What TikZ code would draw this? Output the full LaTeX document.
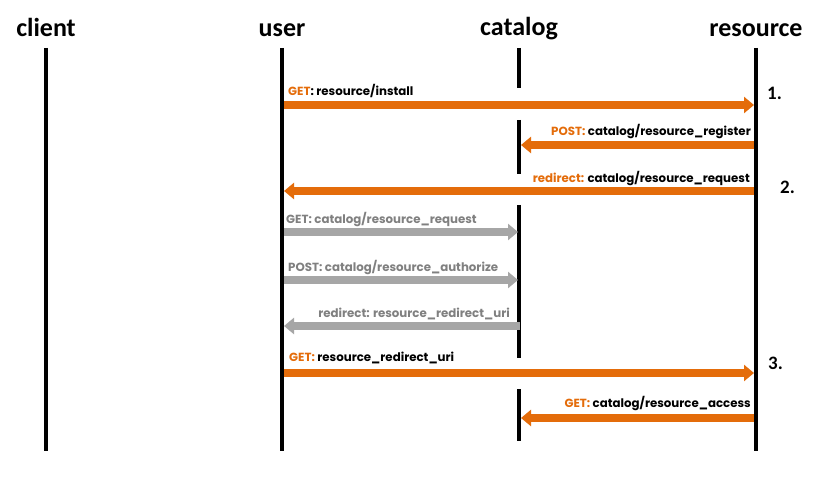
\documentclass[tikz,border=0pt]{standalone}
\usepackage{fontspec}
\setmainfont{Carlito}
\newfontfamily\lblfont{Poppins}
\usetikzlibrary{arrows.meta}
\definecolor{msgorange}{HTML}{E46C0A}
\definecolor{msggray}{HTML}{A6A6A6}
\definecolor{lblgray}{HTML}{808080}
\tikzset{
  lifeline/.style={line width=4pt},
  actor/.style={font=\bfseries\fontsize{26}{26}\selectfont, anchor=base, inner sep=0pt},
  msg/.style={line width=8.5pt, -{Triangle[length=10pt,width=16pt]}},
  omsg/.style={msg, msgorange},
  gmsg/.style={msg, msggray},
  lbl/.style={font=\lblfont\bfseries\fontsize{11.8}{12}\selectfont, inner sep=0pt},
  olbl/.style={lbl, text=black},
  glbl/.style={lbl, text=lblgray},
  stepnum/.style={font=\bfseries\fontsize{19}{19}\selectfont, anchor=base west, inner sep=0pt}
}
\newcommand{\okw}[1]{\textcolor{msgorange}{#1}}
\begin{document}
\begin{tikzpicture}[x=1pt,y=-1pt]
\useasboundingbox[fill=white] (0,0) rectangle (827,481);
% actors
\node[actor] (client) at (46,37) {client};
\node[actor] (user) at (282,37) {user};
\node[actor] (catalog) at (519,36) {catalog};
\node[actor] (resource) at (756,37) {resource};
% lifeline ends
\coordinate (cT) at (46,48);  \coordinate (cB) at (46,451);
\coordinate (uT) at (282,48); \coordinate (uB) at (282,451);
\coordinate (rT) at (756,48); \coordinate (rB) at (756,451);
\coordinate (k1T) at (519,48);  \coordinate (k1B) at (519,88);
\coordinate (k2T) at (519,120); \coordinate (k2B) at (519,174);
\coordinate (k3T) at (519,205); \coordinate (k3B) at (519,358);
\coordinate (k4T) at (519,389); \coordinate (k4B) at (519,441);
\draw[lifeline] (cT) -- (cB);
\draw[lifeline] (uT) -- (uB);
\draw[lifeline] (rT) -- (rB);
\draw[lifeline] (k1T) -- (k1B);
\draw[lifeline] (k2T) -- (k2B);
\draw[lifeline] (k3T) -- (k3B);
\draw[lifeline] (k4T) -- (k4B);
% message end points
\coordinate (m1a) at (284,105); \coordinate (m1b) at (754,105);
\coordinate (m2a) at (754,145); \coordinate (m2b) at (521,145);
\coordinate (m3a) at (754,191); \coordinate (m3b) at (284,191);
\coordinate (m4a) at (284,232); \coordinate (m4b) at (518,232);
\coordinate (m5a) at (284,280); \coordinate (m5b) at (518,280);
\coordinate (m6a) at (520,326); \coordinate (m6b) at (284,326);
\coordinate (m7a) at (284,373); \coordinate (m7b) at (754,373);
\coordinate (m8a) at (754,418); \coordinate (m8b) at (521,418);
\draw[omsg] (m1a) -- (m1b);
\draw[omsg] (m2a) -- (m2b);
\draw[omsg] (m3a) -- (m3b);
\draw[gmsg] (m4a) -- (m4b);
\draw[gmsg] (m5a) -- (m5b);
\draw[gmsg] (m6a) -- (m6b);
\draw[omsg] (m7a) -- (m7b);
\draw[omsg] (m8a) -- (m8b);
% labels
\node[olbl, anchor=base west] (l1) at (288,96) {\okw{GET}: resource/install};
\node[olbl, anchor=base east] (l2) at (751,136) {\okw{POST:} catalog/resource\_register};
\node[olbl, anchor=base east] (l3) at (750,183) {\okw{redirect:} catalog/resource\_request};
\node[glbl, anchor=base west] (l4) at (286,223) {GET: catalog/resource\_request};
\node[glbl, anchor=base west] (l5) at (288,271) {POST: catalog/resource\_authorize};
\node[glbl, anchor=base east] (l6) at (510,317) {redirect: resource\_redirect\_uri};
\node[olbl, anchor=base west] (l7) at (289,361) {\okw{GET:} resource\_redirect\_uri};
\node[olbl, anchor=base east] (l8) at (751,407) {\okw{GET:} catalog/resource\_access};
% step numbers
\node[stepnum] (s1) at (767,100) {1.};
\node[stepnum] (s2) at (780,194) {2.};
\node[stepnum] (s3) at (768,369) {3.};
\end{tikzpicture}
\end{document}
